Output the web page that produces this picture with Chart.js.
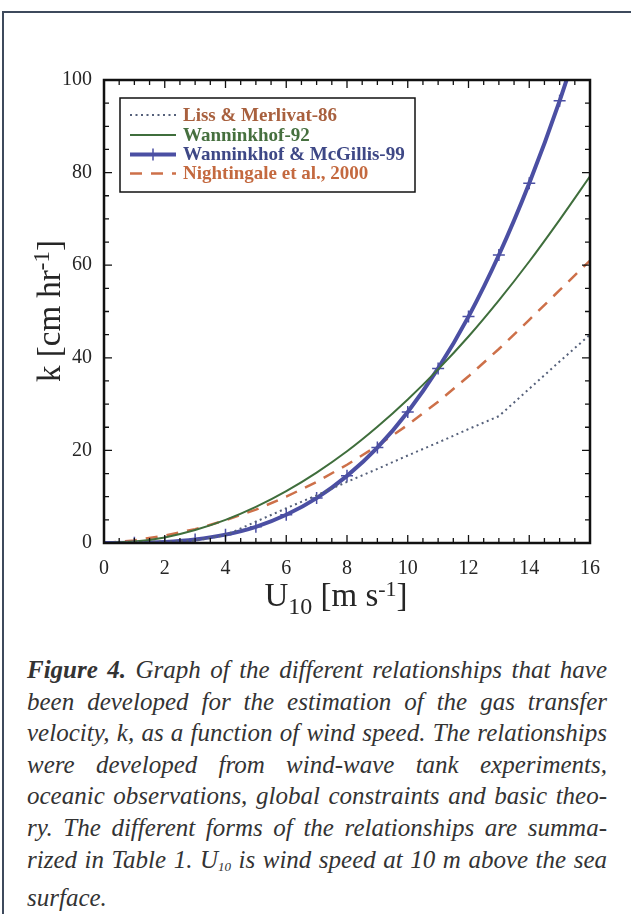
<!DOCTYPE html>
<html>
<head>
<meta charset="utf-8">
<script src="https://cdn.jsdelivr.net/npm/chart.js@4.4.0/dist/chart.umd.min.js"></script>
<style>
  body { margin: 0; background: #fff; width: 631px; height: 914px; overflow: hidden; position: relative; }
  #frame { position: absolute; left: 2px; top: 11px; width: 640px; height: 920px; border-top: 2px solid #3e4a5c; border-left: 2px solid #3e4a5c; }
  #wrap { position: absolute; left: 0; top: 0; width: 631px; height: 620px; }
  #caption { position: absolute; left: 27px; top: 654px; width: 580px; font-family: "Liberation Serif", serif; font-style: italic; font-size: 25px; line-height: 31.6px; color: #333; }
  #caption div { text-align: justify; text-align-last: justify; }
  #caption div.last { text-align-last: left; }
  #caption sub { font-size: 13px; vertical-align: -3px; }
</style>
</head>
<body>
<div id="frame"></div>
<div id="wrap"><canvas id="chart"></canvas></div>
<div id="caption">
  <div><b>Figure 4.</b> Graph of the different relationships that have</div>
  <div>been developed for the estimation of the gas transfer</div>
  <div>velocity, k, as a function of wind speed. The relationships</div>
  <div>were developed from wind-wave tank experiments,</div>
  <div>oceanic observations, global constraints and basic theo-</div>
  <div>ry. The different forms of the relationships are summa-</div>
  <div>rized in Table 1. U<sub>10</sub> is wind speed at 10 m above the sea</div>
  <div class="last">surface.</div>
</div>
<script>
// wind speed U10 [m/s]
var windSpeed = [0, 1, 2, 3, 4, 5, 6, 7, 8, 9, 10, 11, 12, 13, 14, 15, 16];

// k [cm/hr]
var lissMerlivat = [0, 0.2, 0.3, 0.5, 1.7, 4.6, 7.5, 10.3, 13.2, 16.0, 18.9, 21.7, 24.6, 27.4, 33.3, 39.2, 45.0];
var wanninkhof92 = [0, 0.3, 1.2, 2.8, 5.0, 7.8, 11.2, 15.2, 19.8, 25.1, 31.0, 37.5, 44.6, 52.4, 60.8, 69.8, 79.2];
var wanninkhofMcGillis = [0, 0.03, 0.23, 0.76, 1.8, 3.5, 6.1, 9.7, 14.5, 20.6, 28.3, 37.7, 48.9, 62.2, 77.7, 95.5, 115.9];
var nightingale = [0, 0.56, 1.6, 3.0, 4.9, 7.2, 10.0, 13.2, 16.9, 21.0, 25.5, 30.5, 36.0, 41.9, 48.2, 54.6, 61.0];

var xTickLabels = [0, 2, 4, 6, 8, 10, 12, 14, 16];
var yTickLabels = [0, 20, 40, 60, 80, 100];

var serif = '"Liberation Serif", "Times New Roman", serif';

function pts(ys) {
    return windSpeed.map(function(u, i) { return {x: u, y: ys[i]}; });
}

var chartData = {
    datasets: [
    {
        label: 'Liss & Merlivat-86',
        textColor: '#a8603e',
        data: pts(lissMerlivat),
        borderColor: '#55607a',
        borderWidth: 2,
        borderDash: [2, 3.5],
        pointRadius: 0,
        tension: 0
    },
    {
        label: 'Wanninkhof-92',
        textColor: '#46703f',
        data: pts(wanninkhof92),
        borderColor: '#3f6e3c',
        borderWidth: 2,
        pointRadius: 0,
        cubicInterpolationMode: 'monotone'
    },
    {
        label: 'Wanninkhof & McGillis-99',
        textColor: '#3e4886',
        data: pts(wanninkhofMcGillis),
        borderColor: '#4b4fa3',
        borderWidth: 4,
        pointStyle: 'cross',
        pointRadius: function(c) { return c.dataIndex === 0 ? 0 : 6; },
        pointBorderWidth: 1.5,
        pointBorderColor: '#4b4fa3',
        cubicInterpolationMode: 'monotone'
    },
    {
        label: 'Nightingale et al., 2000',
        textColor: '#c4693f',
        data: pts(nightingale),
        borderColor: '#cd7049',
        borderWidth: 2.5,
        borderDash: [12, 9],
        pointRadius: 0,
        tension: 0
    }]
};

// box legend inside the plot, like the original
var boxLegend = {
    id: 'boxLegend',
    afterDatasetsDraw: function(chart) {
        var ctx = chart.ctx;
        var left = 120, top = 98, w = 295, h = 94;
        ctx.save();
        ctx.fillStyle = '#fff';
        ctx.fillRect(left, top, w, h);
        ctx.strokeStyle = '#111';
        ctx.lineWidth = 1.5;
        ctx.strokeRect(left, top, w, h);
        var rows = [115, 135, 154.5, 173.5];
        chart.data.datasets.forEach(function(ds, i) {
            var yy = rows[i];
            ctx.strokeStyle = ds.borderColor;
            ctx.lineWidth = ds.borderWidth;
            ctx.setLineDash(ds.borderDash || []);
            ctx.beginPath();
            ctx.moveTo(130, yy);
            ctx.lineTo(176, yy);
            ctx.stroke();
            ctx.setLineDash([]);
            if (ds.pointStyle === 'cross') {
                ctx.lineWidth = 1.5;
                ctx.beginPath();
                ctx.moveTo(153, yy - 6);
                ctx.lineTo(153, yy + 6);
                ctx.stroke();
            }
            ctx.fillStyle = ds.textColor;
            ctx.font = 'bold 19px ' + serif;
            ctx.textBaseline = 'middle';
            ctx.textAlign = 'left';
            ctx.fillText(ds.label, 183, yy + 1);
        });
        ctx.restore();
    }
};

// black frame with inward ticks on all four sides
var frameTicks = {
    id: 'frameTicks',
    afterDraw: function(chart) {
        var ctx = chart.ctx, a = chart.chartArea;
        var x = chart.scales.x, y = chart.scales.y;
        ctx.save();
        ctx.strokeStyle = '#111';
        ctx.lineWidth = 1.3;
        ctx.beginPath();
        for (var v = 0; v <= 16; v += 0.5) {
            var px = x.getPixelForValue(v);
            var len = (v % 2 === 0) ? 8 : 5;
            ctx.moveTo(px, a.bottom); ctx.lineTo(px, a.bottom - len);
            ctx.moveTo(px, a.top); ctx.lineTo(px, a.top + len);
        }
        for (var k = 0; k <= 100; k += 5) {
            var py = y.getPixelForValue(k);
            var len2 = (k % 20 === 0) ? 8 : 5;
            ctx.moveTo(a.left, py); ctx.lineTo(a.left + len2, py);
            ctx.moveTo(a.right, py); ctx.lineTo(a.right - len2, py);
        }
        ctx.stroke();
        ctx.lineWidth = 2.5;
        ctx.strokeRect(a.left, a.top, a.right - a.left, a.bottom - a.top);
        ctx.restore();
    }
};

// axis titles with sub/superscripts
function drawParts(ctx, parts, cx, base) {
    var total = 0;
    parts.forEach(function(p) {
        ctx.font = p.size + 'px ' + serif;
        p.w = ctx.measureText(p.t).width;
        total += p.w;
    });
    var px = cx - total / 2;
    parts.forEach(function(p) {
        ctx.font = p.size + 'px ' + serif;
        ctx.fillText(p.t, px, base + (p.dy || 0));
        px += p.w;
    });
}

var axisTitles = {
    id: 'axisTitles',
    afterDraw: function(chart) {
        var ctx = chart.ctx;
        ctx.save();
        ctx.fillStyle = '#262626';
        ctx.textBaseline = 'alphabetic';
        ctx.textAlign = 'left';
        drawParts(ctx, [
            {t: 'U', size: 33},
            {t: '10', size: 24, dy: 8},
            {t: ' [m s', size: 33},
            {t: '-1', size: 22, dy: -10},
            {t: ']', size: 33}
        ], 336, 606);
        ctx.translate(60, 311);
        ctx.rotate(-Math.PI / 2);
        drawParts(ctx, [
            {t: 'k [cm hr', size: 33},
            {t: '-1', size: 23, dy: -11},
            {t: ']', size: 33}
        ], 0, 0);
        ctx.restore();
    }
};

var chartOptions = {
    animation: false,
    responsive: true,
    maintainAspectRatio: false,
    layout: { padding: { top: 80, right: 41, left: 0, bottom: 0 } },
    plugins: { legend: { display: false }, tooltip: { enabled: false } },
    scales: {
        x: {
            type: 'linear',
            min: 0,
            max: 16,
            afterBuildTicks: function(s) { s.ticks = xTickLabels.map(function(v) { return {value: v}; }); },
            afterFit: function(s) { s.height = 77; },
            grid: { display: false, drawTicks: false },
            border: { display: false },
            ticks: { padding: 14, color: '#262626', font: { family: serif, size: 20 } }
        },
        y: {
            min: 0,
            max: 100,
            afterBuildTicks: function(s) { s.ticks = yTickLabels.map(function(v) { return {value: v}; }); },
            afterFit: function(s) { s.width = 104; },
            grid: { display: false, drawTicks: false },
            border: { display: false },
            ticks: { padding: 12, color: '#262626', font: { family: serif, size: 20 } }
        }
    }
};

var chart = new Chart(document.getElementById('chart'), {
    type: 'line',
    data: chartData,
    options: chartOptions,
    plugins: [boxLegend, frameTicks, axisTitles]
});
</script>
</body>
</html>
